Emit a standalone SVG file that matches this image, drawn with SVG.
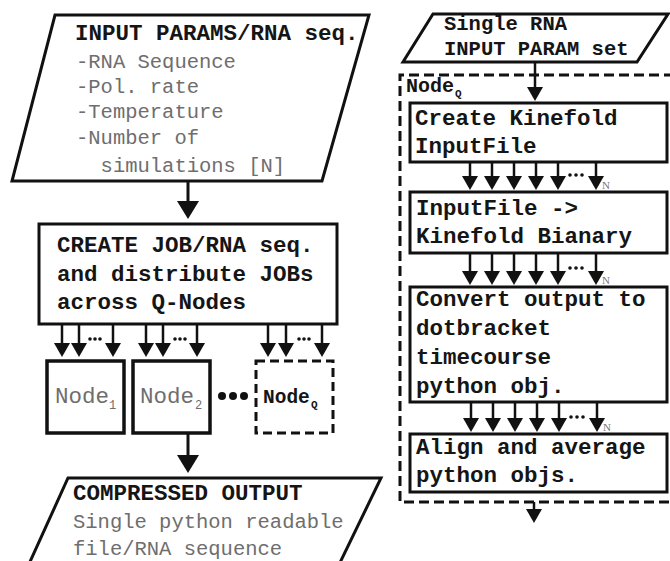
<svg xmlns="http://www.w3.org/2000/svg" xmlns:xlink="http://www.w3.org/1999/xlink" width="670" height="561" viewBox="0 0 670 561">
<style>
.shape{fill:#fff;stroke:#111;stroke-width:3}
.dash{fill:none;stroke:#111;stroke-width:3;stroke-dasharray:10 5}
.b{font-family:"Liberation Mono","Courier New",monospace;font-weight:bold;fill:#151515;font-size:22.5px}
.g{font-family:"Liberation Mono","Courier New",monospace;fill:#6e6e6e;font-size:20.5px}
.ln{stroke:#111;stroke-width:3}
.ls{stroke:#111;stroke-width:2.5}
.hd{fill:#111}
.sub{font-family:"Liberation Serif","Times New Roman",serif;fill:#777;font-size:11px}
</style>
<defs>
<path id="hb" d="M-11,-18 L11,-18 L0,0 Z"/>
<path id="hs" d="M-8,-14 L8,-14 L0,0 Z"/>
</defs>
<rect width="670" height="561" fill="#fff"/>

<g id="input">
<polygon class="shape" points="55,15 369,15 322,181 12,181"/>
<text class="b" x="75" y="40">INPUT PARAMS/RNA seq.</text>
<text class="g" x="76" y="68">-RNA Sequence</text>
<text class="g" x="76" y="93">-Pol. rate</text>
<text class="g" x="76" y="118">-Temperature</text>
<text class="g" x="76" y="144">-Number of</text>
<text class="g" x="76" y="172" xml:space="preserve">  simulations [N]</text>
</g>

<g id="create-job">
<rect class="shape" x="39" y="224" width="298" height="100"/>
<text class="b" x="57" y="252">CREATE JOB/RNA seq.</text>
<text class="b" x="57" y="281">and distribute JOBs</text>
<text class="b" x="57" y="309">across Q-Nodes</text>
</g>

<g id="node1">
<rect class="shape" x="47" y="361" width="77" height="72" style="stroke-width:3.5"/>
<text class="g" x="55" y="403" style="font-size:22.5px">Node</text>
<text class="g" x="109" y="409" style="font-size:12px">1</text>
</g>
<g id="node2">
<rect class="shape" x="133" y="361" width="77" height="72" style="stroke-width:3.5"/>
<text class="g" x="140" y="403" style="font-size:22.5px">Node</text>
<text class="g" x="195" y="409" style="font-size:12px">2</text>
</g>
<g id="node-ellipsis">
<circle cx="222" cy="396" r="4" fill="#111"/>
<circle cx="233" cy="396" r="4" fill="#111"/>
<circle cx="244" cy="396" r="4" fill="#111"/>
</g>
<g id="nodeQ">
<rect x="256" y="361" width="77" height="72" fill="#fff" stroke="#111" stroke-width="3" stroke-dasharray="9 5"/>
<text class="b" x="263" y="403" style="font-size:19.5px">Node</text>
<text class="b" x="311" y="408" style="font-size:11px">Q</text>
</g>

<g id="output">
<polygon class="shape" points="68,478 381,478 334,575 24,575"/>
<text class="b" x="73" y="500">COMPRESSED OUTPUT</text>
<text class="g" x="73" y="528">Single python readable</text>
<text class="g" x="73" y="555">file/RNA sequence</text>
</g>

<g id="single-input">
<polygon class="shape" points="433,14 668,14 637,62 403,62"/>
<text class="b" x="444" y="30" style="font-size:20.5px">Single RNA</text>
<text class="b" x="444" y="55" style="font-size:20.5px">INPUT PARAM set</text>
</g>

<g id="nodeQ-detail">
<path class="dash" d="M674,75 H400 V502 H674"/>
<text class="b" x="406" y="92" style="font-size:20px">Node</text>
<text class="b" x="455" y="97" style="font-size:11px">Q</text>
</g>

<g id="kinefold-input">
<rect class="shape" x="410" y="103" width="257" height="59"/>
<text class="b" x="415" y="125">Create Kinefold</text>
<text class="b" x="415" y="153">InputFile</text>
</g>
<g id="kinefold-binary">
<rect class="shape" x="410" y="192" width="257" height="61"/>
<text class="b" x="416" y="215">InputFile -&gt;</text>
<text class="b" x="416" y="243">Kinefold Bianary</text>
</g>
<g id="convert">
<rect class="shape" x="410" y="287" width="257" height="115"/>
<text class="b" x="416" y="306">Convert output to</text>
<text class="b" x="416" y="335">dotbracket</text>
<text class="b" x="416" y="364">timecourse</text>
<text class="b" x="416" y="393">python obj.</text>
</g>
<g id="align">
<rect class="shape" x="410" y="434" width="257" height="58"/>
<text class="b" x="416" y="454">Align and average</text>
<text class="b" x="416" y="482">python objs.</text>
</g>

<g id="connectors">
<line class="ln" x1="188" y1="181" x2="188" y2="202"/><use xlink:href="#hb" class="hd" x="188" y="219"/>
<line class="ln" x1="188" y1="433" x2="188" y2="456"/><use xlink:href="#hb" class="hd" x="188" y="473"/>
<g>
<line class="ls" x1="62" y1="324" x2="62" y2="345"/><use xlink:href="#hs" class="hd" x="62" y="357"/>
<line class="ls" x1="79" y1="324" x2="79" y2="345"/><use xlink:href="#hs" class="hd" x="79" y="357"/>
<line class="ls" x1="113" y1="324" x2="113" y2="345"/><use xlink:href="#hs" class="hd" x="113" y="357"/>
<line class="ls" x1="146" y1="324" x2="146" y2="345"/><use xlink:href="#hs" class="hd" x="146" y="357"/>
<line class="ls" x1="163" y1="324" x2="163" y2="345"/><use xlink:href="#hs" class="hd" x="163" y="357"/>
<line class="ls" x1="197" y1="324" x2="197" y2="345"/><use xlink:href="#hs" class="hd" x="197" y="357"/>
<line class="ls" x1="268" y1="324" x2="268" y2="345"/><use xlink:href="#hs" class="hd" x="268" y="357"/>
<line class="ls" x1="286" y1="324" x2="286" y2="345"/><use xlink:href="#hs" class="hd" x="286" y="357"/>
<line class="ls" x1="322" y1="324" x2="322" y2="345"/><use xlink:href="#hs" class="hd" x="322" y="357"/>
<g fill="#111">
<circle cx="90" cy="339" r="1.8"/><circle cx="95" cy="339" r="1.8"/><circle cx="100" cy="339" r="1.8"/>
<circle cx="175" cy="339" r="1.8"/><circle cx="180" cy="339" r="1.8"/><circle cx="185" cy="339" r="1.8"/>
<circle cx="299" cy="339" r="1.8"/><circle cx="304" cy="339" r="1.8"/><circle cx="309" cy="339" r="1.8"/>
</g>
</g>
<line class="ls" x1="535" y1="62" x2="535" y2="88"/><use xlink:href="#hs" class="hd" x="535" y="101"/>
<line class="ls" x1="534" y1="502" x2="534" y2="511"/><use xlink:href="#hs" class="hd" x="534" y="523"/>
<g>
<line class="ls" x1="470" y1="162" x2="470" y2="178"/><use xlink:href="#hs" class="hd" x="470" y="190"/>
<line class="ls" x1="492" y1="162" x2="492" y2="178"/><use xlink:href="#hs" class="hd" x="492" y="190"/>
<line class="ls" x1="514" y1="162" x2="514" y2="178"/><use xlink:href="#hs" class="hd" x="514" y="190"/>
<line class="ls" x1="536" y1="162" x2="536" y2="178"/><use xlink:href="#hs" class="hd" x="536" y="190"/>
<line class="ls" x1="558" y1="162" x2="558" y2="178"/><use xlink:href="#hs" class="hd" x="558" y="190"/>
<line class="ls" x1="596" y1="162" x2="596" y2="178"/><use xlink:href="#hs" class="hd" x="596" y="190"/>
<g fill="#111"><circle cx="570" cy="175" r="1.8"/><circle cx="576" cy="175" r="1.8"/><circle cx="582" cy="175" r="1.8"/></g>
<text class="sub" x="602" y="189">N</text>
</g>
<g>
<line class="ls" x1="470" y1="253" x2="470" y2="273"/><use xlink:href="#hs" class="hd" x="470" y="285"/>
<line class="ls" x1="492" y1="253" x2="492" y2="273"/><use xlink:href="#hs" class="hd" x="492" y="285"/>
<line class="ls" x1="514" y1="253" x2="514" y2="273"/><use xlink:href="#hs" class="hd" x="514" y="285"/>
<line class="ls" x1="536" y1="253" x2="536" y2="273"/><use xlink:href="#hs" class="hd" x="536" y="285"/>
<line class="ls" x1="558" y1="253" x2="558" y2="273"/><use xlink:href="#hs" class="hd" x="558" y="285"/>
<line class="ls" x1="596" y1="253" x2="596" y2="273"/><use xlink:href="#hs" class="hd" x="596" y="285"/>
<g fill="#111"><circle cx="570" cy="268" r="1.8"/><circle cx="576" cy="268" r="1.8"/><circle cx="582" cy="268" r="1.8"/></g>
<text class="sub" x="602" y="284">N</text>
</g>
<g>
<line class="ls" x1="471" y1="402" x2="471" y2="420"/><use xlink:href="#hs" class="hd" x="471" y="432"/>
<line class="ls" x1="493" y1="402" x2="493" y2="420"/><use xlink:href="#hs" class="hd" x="493" y="432"/>
<line class="ls" x1="515" y1="402" x2="515" y2="420"/><use xlink:href="#hs" class="hd" x="515" y="432"/>
<line class="ls" x1="537" y1="402" x2="537" y2="420"/><use xlink:href="#hs" class="hd" x="537" y="432"/>
<line class="ls" x1="559" y1="402" x2="559" y2="420"/><use xlink:href="#hs" class="hd" x="559" y="432"/>
<line class="ls" x1="597" y1="402" x2="597" y2="420"/><use xlink:href="#hs" class="hd" x="597" y="432"/>
<g fill="#111"><circle cx="571" cy="417" r="1.8"/><circle cx="577" cy="417" r="1.8"/><circle cx="583" cy="417" r="1.8"/></g>
<text class="sub" x="603" y="431">N</text>
</g>
</g>
</svg>
